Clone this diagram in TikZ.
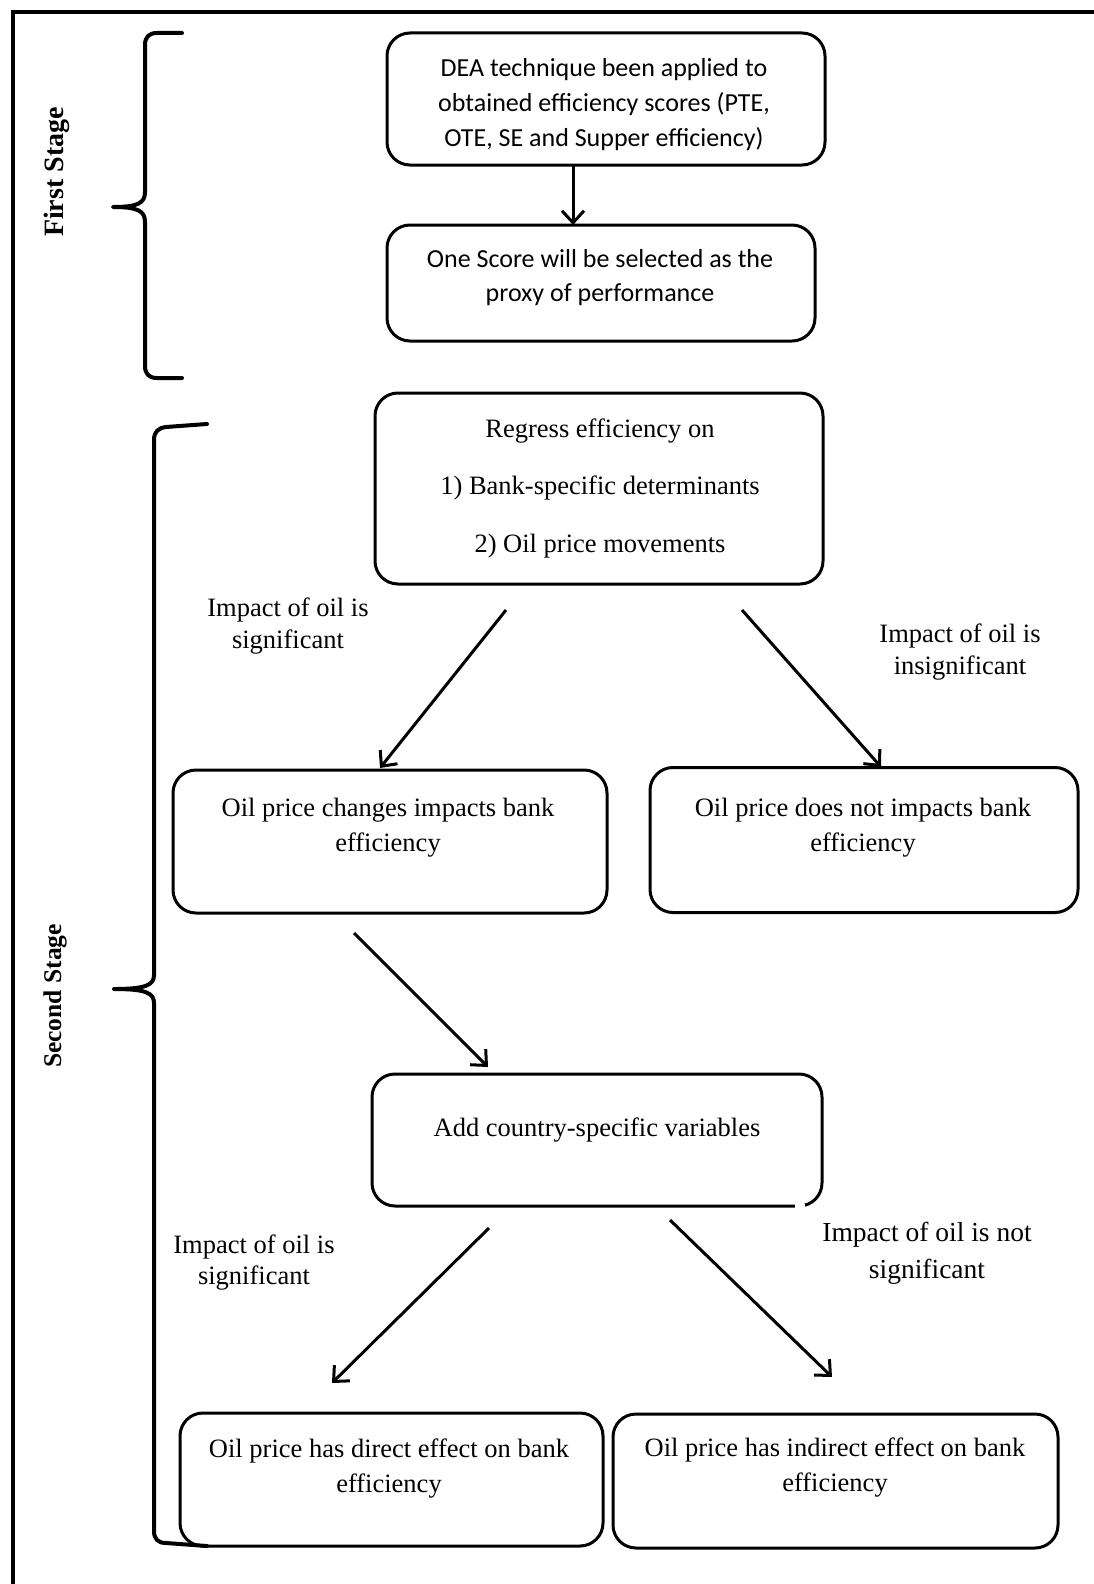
\documentclass[tikz,border=0pt]{standalone}
\usepackage{fontspec}
\setmainfont{Liberation Serif}
\newfontfamily\calibrifont{Carlito}
\usetikzlibrary{arrows.meta}
\begin{document}
\begin{tikzpicture}[x=1pt,y=-1pt,
  boxshape/.style={draw, line width=3pt, rounded corners=23pt, inner sep=0pt, outer sep=0pt},
  sertext/.style={align=center, inner sep=0pt, font=\fontsize{26.5}{35}\selectfont},
  santext/.style={align=center, inner sep=0pt, font=\calibrifont\fontsize{26}{35}\selectfont},
  arr/.style={line width=3pt, -{Straight Barb[length=12pt,width=22pt]}},
  bracepath/.style={line width=4pt, line cap=round, line join=round},
  stagelabel/.style={rotate=90, inner sep=0pt, font=\bfseries}
]
\useasboundingbox (0,0) rectangle (1094,1584);
\fill[white] (0,0) rectangle (1094,1584);
% frame
\draw[line width=4pt] (1094,12) -- (13,12) -- (13,1584);

% boxes
\node[boxshape, minimum width=438pt, minimum height=132pt] (b1) at (606,99) {};
\node[boxshape, minimum width=428pt, minimum height=116pt] (b2) at (601,283) {};
\node[boxshape, minimum width=448pt, minimum height=191pt] (b3) at (599,488.5) {};
\node[boxshape, minimum width=434pt, minimum height=143pt] (b4) at (390,841.5) {};
\node[boxshape, minimum width=428pt, minimum height=145pt] (b5) at (864,840) {};
\node[boxshape, minimum width=450pt, minimum height=132pt] (b6) at (597,1140) {};
\node[boxshape, minimum width=423pt, minimum height=133pt] (b7) at (391.5,1479.5) {};
\node[boxshape, minimum width=445pt, minimum height=134pt] (b8) at (835.5,1481) {};
% small gap in bottom line of b6
\draw[white, line width=5pt] (795,1206) -- (805,1206);

% box texts
\node[santext] (t1) at (604,105) {DEA technique been applied to\\obtained efficiency scores (PTE,\\OTE, SE and Supper efficiency)};
\node[santext, font=\calibrifont\fontsize{26}{34}\selectfont] (t2) at (600,278) {One Score will be selected as the\\proxy of performance};
\node[sertext, font=\fontsize{26.5}{57.5}\selectfont] (t3) at (600,488) {Regress efficiency on\\1) Bank-specific determinants\\2) Oil price movements};
\node[sertext] (t4) at (388,827.5) {Oil price changes impacts bank\\efficiency};
\node[sertext] (t5) at (863,827.5) {Oil price does not impacts bank\\efficiency};
\node[sertext] (t6) at (597,1130) {Add country-specific variables};
\node[sertext] (t7) at (389,1468.5) {Oil price has direct effect on bank\\efficiency};
\node[sertext] (t8) at (835,1467.5) {Oil price has indirect effect on bank\\efficiency};

% labels
\node[sertext, font=\fontsize{26.5}{32}\selectfont] (l1) at (288,626) {Impact of oil is\\significant};
\node[sertext, font=\fontsize{26.5}{32}\selectfont] (l2) at (960,652.5) {Impact of oil is\\insignificant};
\node[sertext, font=\fontsize{26.5}{31}\selectfont] (l3) at (254,1263) {Impact of oil is\\significant};
\node[sertext, font=\fontsize{27.5}{37}\selectfont] (l4) at (927,1253.5) {Impact of oil is not\\significant};

% stage labels
\node[stagelabel, font=\bfseries\fontsize{28}{30}\selectfont] (s1) at (57,172) {First Stage};
\node[stagelabel, font=\bfseries\fontsize{25.5}{28}\selectfont] (s2) at (55,996) {Second Stage};

% connector end points
\coordinate (a2s) at (506,610);
\coordinate (a2e) at (380,768);
\coordinate (a3s) at (742,610);
\coordinate (a3e) at (881,767);
\coordinate (a4s) at (354,933);
\coordinate (a4e) at (488,1067);
\coordinate (a5s) at (489,1228);
\coordinate (a5e) at (332,1383);
\coordinate (a6s) at (670,1220);
\coordinate (a6e) at (832,1377);

% connectors
\draw[arr] (b1.south -| 573,0) -- (b2.north -| 573,0);
\draw[arr] (a2s) -- (a2e);
\draw[arr] (a3s) -- (a3e);
\draw[arr] (a4s) -- (a4e);
\draw[arr] (a5s) -- (a5e);
\draw[arr] (a6s) -- (a6e);

% braces
\draw[bracepath] (182,33) -- (157,33) .. controls (149,33) and (145,37) .. (145,45)
  -- (145,192) .. controls (145,203) and (138,207) .. (113,207)
  .. controls (138,207) and (145,211) .. (145,222)
  -- (145,366) .. controls (145,374) and (149,378) .. (157,378) -- (182,378);
\draw[bracepath] (207,424) -- (166,427) .. controls (158,428) and (154,432) .. (154,440)
  -- (154,975) .. controls (154,985) and (146,989) .. (114,989)
  .. controls (146,989) and (154,993) .. (154,1003)
  -- (154,1531) .. controls (154,1539) and (158,1543) .. (166,1543) -- (207,1546);
\end{tikzpicture}
\end{document}
